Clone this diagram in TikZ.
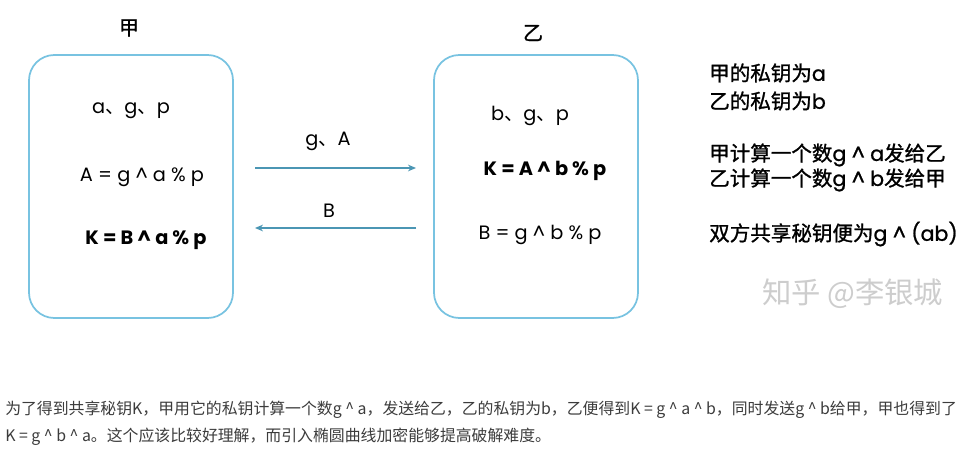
\documentclass[tikz,border=0pt]{standalone}
\usepackage{fontspec}
\setmainfont{Noto Sans CJK SC}
\newfontfamily\latinf{Poppins}
\newfontfamily\latinm[FakeBold=1]{Poppins}
\newfontfamily\cjkf{Noto Sans CJK SC}
\newfontfamily\cjkm[FakeBold=1.2]{Noto Sans CJK SC}
\usetikzlibrary{arrows.meta}
\definecolor{boxblue}{RGB}{120,195,225}
\definecolor{arrblue}{RGB}{75,150,180}
\definecolor{txtgray}{RGB}{60,60,60}
\definecolor{wmgray}{RGB}{205,205,205}
\newcommand{\dn}{{\cjkf 、}}
\newcommand{\hatc}{\textasciicircum{}}
\tikzset{
  pbox/.style={draw=boxblue, line width=1.3pt, rounded corners=19pt},
  msg/.style={draw=arrblue, line width=0.9pt, -{Stealth[length=6pt,width=5pt]}},
  dtext/.style={inner sep=0pt, font=\latinf\fontsize{14.5pt}{16pt}\selectfont, text=black},
  btext/.style={dtext, font=\latinf\bfseries\fontsize{14.5pt}{16pt}\selectfont},
  ttext/.style={inner sep=0pt, font=\cjkm\fontsize{15pt}{17pt}\selectfont, text=black},
  ctext/.style={inner sep=0pt, anchor=west, font=\cjkm\fontsize{15.4pt}{17pt}\selectfont, text=black},
  para/.style={inner sep=0pt, anchor=west, font=\cjkf\fontsize{11.9pt}{13pt}\selectfont, text=txtgray}
}
\begin{document}
\begin{tikzpicture}[x=0.75pt,y=-0.75pt]
\useasboundingbox (0,0) rectangle (975,460);
\fill[white] (0,0) rectangle (975,460);
% boxes
\draw[pbox] (29,55) rectangle (233,318);
\draw[pbox] (434,55) rectangle (638,318);
\node[ttext] (ta) at (129,28) {甲};
\node[ttext] (tb) at (533,33) {乙};
% left box
\node[dtext] (a1) at (131,111) {a\dn g\dn p};
\node[dtext] (a2) at (142,177) {A = g \hatc{} a \% p};
\node[btext] (a3) at (146,240) {K = B \hatc{} a \% p};
% right box
\node[dtext] (b1) at (530,116) {b\dn g\dn p};
\node[btext] (b2) at (545,171) {K = A \hatc{} b \% p};
\node[dtext] (b3) at (540,235) {B = g \hatc{} b \% p};
% arrows
\coordinate (p1) at (255,168);
\coordinate (p2) at (416,168);
\coordinate (q1) at (416,228);
\coordinate (q2) at (255,228);
\draw[msg] (p1) -- (p2);
\draw[msg] (q1) -- (q2);
\node[dtext] (m1) at (328,141) {g\dn A};
\node[dtext] (m2) at (329,211) {B};
% right notes
\node[ctext] (n1) at (709,73) {甲的私钥为{\latinm a}};
\node[ctext] (n2) at (709,101) {乙的私钥为{\latinm b}};
\node[ctext] (n3) at (709,155) {甲计算一个数{\latinm g \hatc{} a}发给乙};
\node[ctext] (n4) at (709,180) {乙计算一个数{\latinm g \hatc{} b}发给甲};
\node[ctext] (n5) at (709,234) {双方共享秘钥便为{\latinm g \hatc{} (ab)}};
% watermark
\node[ctext, text=wmgray, font=\cjkf\fontsize{22pt}{24pt}\selectfont] (wm) at (762,294) {知乎 @李银城};
% paragraph
\node[para] (l1) at (5,410) {为了得到共享秘钥K，甲用它的私钥计算一个数g \hatc{} a，发送给乙，乙的私钥为b，乙便得到K = g \hatc{} a \hatc{} b，同时发送g \hatc{} b给甲，甲也得到了};
\node[para] (l2) at (5,437) {K = g \hatc{} b \hatc{} a。这个应该比较好理解，而引入椭圆曲线加密能够提高破解难度。};
\end{tikzpicture}
\end{document}
